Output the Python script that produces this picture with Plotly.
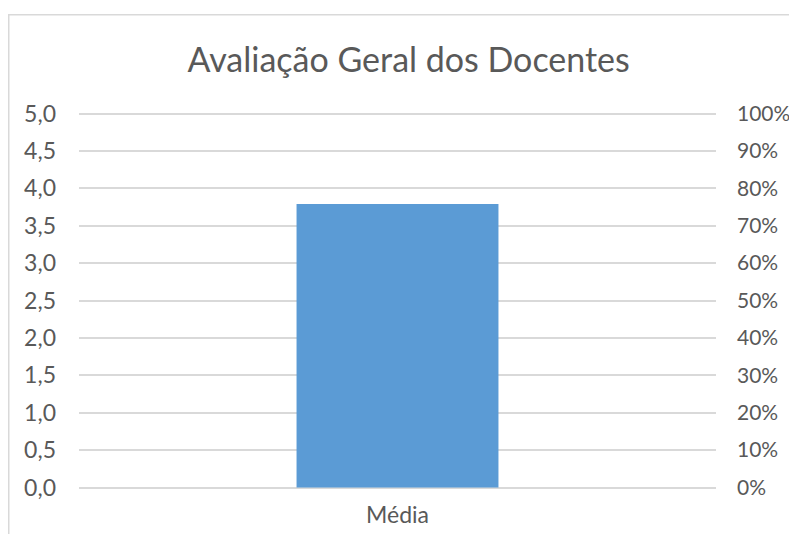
import plotly.graph_objects as go

# Dados
categorias = ["Média"]
valores = [3.79]
titulo = "Avaliação Geral dos Docentes"
ticks_nota = [i * 0.5 for i in range(11)]
ticks_pct = [i / 10 for i in range(11)]

cinza_texto = "#595959"
cinza_grade = "#d9d9d9"
fonte = "Lato"

fig = go.Figure()
fig.add_trace(go.Bar(x=categorias, y=valores, marker_color="#5b9bd5",
                     marker_line_width=0, width=0.317))

# eixo secundario invisivel so para os rotulos em %
fig.add_trace(go.Scatter(x=categorias, y=[None], yaxis="y2", showlegend=False,
                         hoverinfo="skip"))

# a pagina tem 8px de margem no body, entao a figura e um pouco menor
fig.update_layout(
    width=781, height=526,
    separators=",.",
    paper_bgcolor="white", plot_bgcolor="white",
    margin=dict(l=71, r=73, t=103.5, b=44.5),
    showlegend=False,
    font=dict(family=fonte, size=23, color=cinza_texto),
    title=dict(text=titulo, x=0.513, xanchor="center", y=0.9015, yanchor="middle",
               font=dict(family=fonte, size=34, color=cinza_texto)),
    xaxis=dict(showgrid=False, showline=False, zeroline=False, automargin=False,
               ticks="", ticklabelstandoff=10),
    yaxis=dict(range=[-0.02, 5.02], tickvals=ticks_nota,
               tickformat=".1f", showgrid=True, automargin=False,
               gridcolor=cinza_grade, gridwidth=1.5, zeroline=False,
               showline=False, ticks="", ticklabelstandoff=22),
    yaxis2=dict(range=[-0.004, 1.004], tickvals=ticks_pct,
                tickformat=".0%", overlaying="y", automargin=False,
                side="right", showgrid=False, zeroline=False, showline=False,
                ticks="", ticklabelstandoff=20,
                tickfont=dict(family=fonte, size=21, color=cinza_texto)),
)

# contorno da area do grafico
fig.add_shape(type="rect", xref="paper", yref="paper",
              x0=-0.1103, x1=1.3, y0=-0.3, y1=1.258,
              line=dict(color=cinza_grade, width=1.5), layer="below")

fig.write_html("out.html")
